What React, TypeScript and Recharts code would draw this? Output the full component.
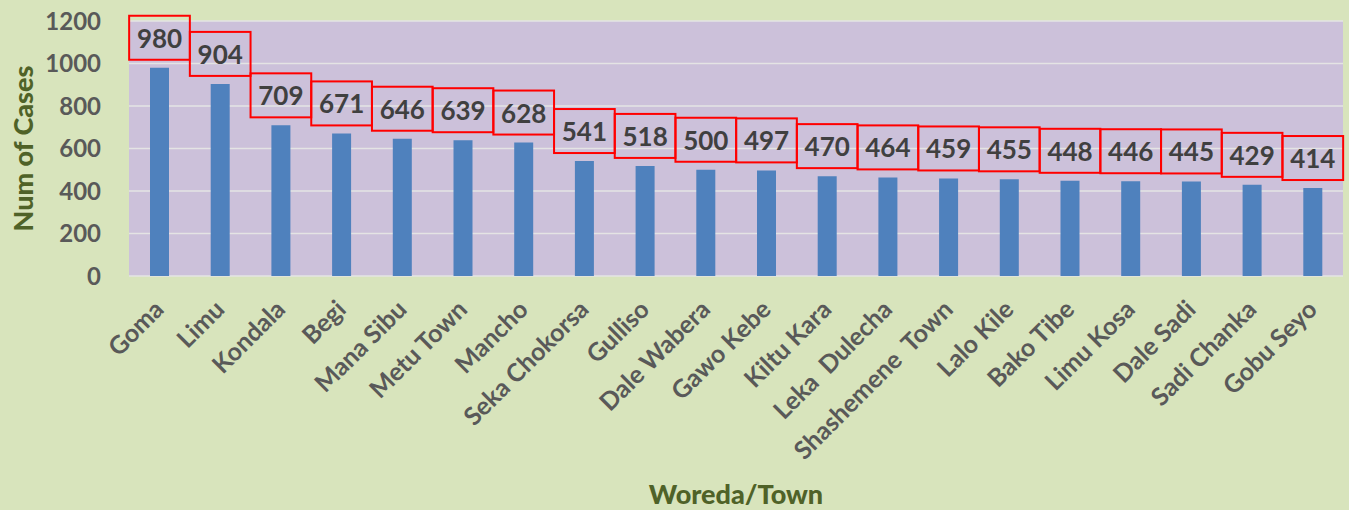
import { BarChart, Bar, XAxis, YAxis, CartesianGrid, LabelList, Label } from "recharts";

const towns = [
  "Goma", "Limu", "Kondala", "Begi", "Mana Sibu", "Metu Town", "Mancho",
  "Seka Chokorsa", "Gulliso", "Dale Wabera", "Gawo Kebe", "Kiltu Kara",
  "Leka  Dulecha", "Shashemene  Town", "Lalo Kile", "Bako Tibe", "Limu Kosa",
  "Dale Sadi", "Sadi Chanka", "Gobu Seyo",
];
const cases = [980, 904, 709, 671, 646, 639, 628, 541, 518, 500, 497, 470, 464, 459, 455, 448, 446, 445, 429, 414];
const yTicks = [0, 200, 400, 600, 800, 1000, 1200];

const data = towns.map((t, i) => ({ town: t, cases: cases[i] }));

const W = 1349;
const H = 510;
const M = { top: 21, right: 6, left: 0, bottom: 0 };
const Y_W = 129;
const X_H = 234;
const BAND = (W - M.left - M.right - Y_W) / towns.length;
const FONT = "Lato, 'Open Sans', sans-serif";

function XTick(props: any) {
  const { x, y, payload } = props;
  return (
    <g transform={`translate(${x},${y})`}>
      <text
        x={0}
        y={0}
        transform="translate(6,27) rotate(-45)"
        textAnchor="end"
        fill="#595959"
        fontSize={25}
        fontWeight={700}
        fontFamily={FONT}
        style={{ whiteSpace: "pre" }}
      >
        {payload.value}
      </text>
    </g>
  );
}

function ValueBox(props: any) {
  const { x, y, width, value } = props;
  const cx = Number(x) + Number(width) / 2;
  const bh = 44;
  const by = Number(y) - 8 - bh;
  return (
    <g>
      <rect x={cx - BAND / 2} y={by} width={BAND} height={bh} fill="none" stroke="#ff0000" strokeWidth={2} />
      <text
        x={cx}
        y={by + bh / 2}
        textAnchor="middle"
        dominantBaseline="central"
        fill="#404040"
        fontSize={26}
        fontWeight={700}
        fontFamily={FONT}
      >
        {value}
      </text>
    </g>
  );
}

export default function App() {
  return (
    <div style={{ position: "absolute", left: 0, top: 0, width: W, height: H, background: "#d8e4bc" }}>
      <BarChart width={W} height={H} data={data} margin={M} barCategoryGap={0}>
        <CartesianGrid vertical={false} fill="#ccc1da" stroke="#e4e4e4" strokeWidth={1.5} />
        <XAxis
          dataKey="town"
          height={X_H}
          interval={0}
          axisLine={false}
          tickLine={false}
          tick={<XTick />}
        >
          <Label
            content={(p: any) => {
              const vb = p.viewBox;
              return (
                <text
                  x={vb.x + vb.width / 2}
                  y={vb.y + 217}
                  textAnchor="middle"
                  dominantBaseline="central"
                  fill="#4f6228"
                  fontSize={27}
                  fontWeight={900}
                  fontFamily={FONT}
                >
                  Woreda/Town
                </text>
              );
            }}
          />
        </XAxis>
        <YAxis
          width={Y_W}
          domain={[0, 1200]}
          ticks={yTicks}
          axisLine={false}
          tickLine={false}
          tickMargin={22}
          tick={{ fill: "#595959", fontSize: 24, fontWeight: 700, fontFamily: FONT }}
        >
          <Label
            content={(p: any) => {
              const vb = p.viewBox;
              const cy = vb.y + vb.height / 2;
              return (
                <text
                  x={vb.x + 22}
                  y={cy}
                  transform={`rotate(-90, ${vb.x + 22}, ${cy})`}
                  textAnchor="middle"
                  dominantBaseline="central"
                  fill="#4f6228"
                  fontSize={27}
                  fontWeight={900}
                  fontFamily={FONT}
                >
                  Num of Cases
                </text>
              );
            }}
          />
        </YAxis>
        <Bar dataKey="cases" fill="#4f81bd" barSize={19} isAnimationActive={false}>
          <LabelList dataKey="cases" content={<ValueBox />} />
        </Bar>
      </BarChart>
    </div>
  );
}
